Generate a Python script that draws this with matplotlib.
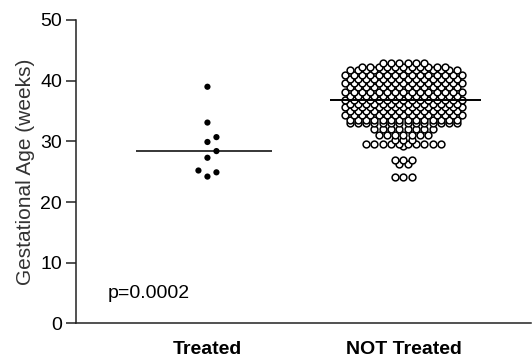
import numpy as np
import matplotlib.pyplot as plt

plt.rcParams['font.family'] = ['Liberation Sans', 'DejaVu Sans']

# data (weeks)
groups = ['Treated', 'NOT Treated']
treated = [39.0, 33.1, 30.7, 29.9, 28.4, 27.3, 25.2, 24.9, 24.2]
nt_weeks = [24.1, 26.3, 27.0, 29.2, 29.6, 30.2, 31.0, 32.0, 33.0,
            33.6, 34.3, 35.0, 35.7, 36.2, 36.85, 37.5, 38.2, 38.9,
            39.6, 40.3, 41.0, 41.7, 42.3, 42.9]
nt_counts = [3, 2, 3, 1, 10, 3, 7, 8, 14,
             14, 15, 14, 15, 14, 15, 14, 15, 14,
             15, 14, 15, 14, 11, 6]
not_treated = np.repeat(nt_weeks, nt_counts)
p_text = 'p=0.0002'

W, H = 532, 357
fig = plt.figure(figsize=(W / 100, H / 100), dpi=100)
box = [0.143, 0.094, 0.855, 0.85]
ax = fig.add_axes(box)
xlim = (0.33, 2.65)
ylim = (0, 50)
ax.set_xlim(*xlim)
ax.set_ylim(*ylim)

# pixels per data unit, for laying out the dots
px_x = W * box[2] / (xlim[1] - xlim[0])
px_y = H * box[3] / (ylim[1] - ylim[0])


def swarm(vals, center, diam):
    # simple beeswarm: try 0, +1, -1, +2, -2 ... steps
    order = np.argsort(vals)
    xs = np.zeros(len(vals))
    placed = []
    for i in order:
        y = vals[i] * px_y
        k = 0
        while True:
            off = ((k + 1) // 2) * (1 if k % 2 else -1) if k else 0
            x = off * diam
            if all((x - px) ** 2 + (y - py) ** 2 >= diam ** 2 for px, py in placed):
                break
            k += 1
        placed.append((x, y))
        xs[i] = center + x / px_x
    return xs


def rows(vals, center, step):
    # points with the same value spread out side by side
    xs = np.zeros(len(vals))
    for v in np.unique(vals):
        idx = np.where(vals == v)[0]
        n = len(idx)
        xs[idx] = center + (np.arange(n) - (n - 1) / 2) * step / px_x
    return xs


tr = np.array(treated)
x_tr = swarm(tr, 1, 9.0)
x_nt = rows(not_treated, 2, 8.3)

ax.scatter(x_tr, tr, s=20, color='black', edgecolors='none', zorder=3)
ax.scatter(x_nt, not_treated, s=24, facecolors='white', edgecolors='black',
           linewidths=1.1, zorder=3)

# median lines
ax.hlines(np.median(tr), 0.635, 1.33, color='black', lw=1.1, zorder=4)
ax.hlines(np.median(not_treated), 1.625, 2.395, color='black', lw=1.4, zorder=4)

ax.text(0.49, 5, p_text, fontsize=14, ha='left', va='center')

ax.spines['top'].set_visible(False)
ax.spines['right'].set_visible(False)
for s in ['left', 'bottom']:
    ax.spines[s].set_linewidth(1.1)
    ax.spines[s].set_color('#222222')

ax.set_yticks(np.arange(0, 51, 10))
ax.tick_params(axis='y', length=7, width=1.1, color='#222222', labelsize=14, pad=3)
ax.set_xticks([1, 2])
ax.set_xticklabels(groups, fontsize=14, fontweight='bold')
ax.tick_params(axis='x', length=0, pad=13)
ax.set_ylabel('Gestational Age (weeks)', fontsize=15, color='#333333')

fig.savefig('out.png', dpi=100)
